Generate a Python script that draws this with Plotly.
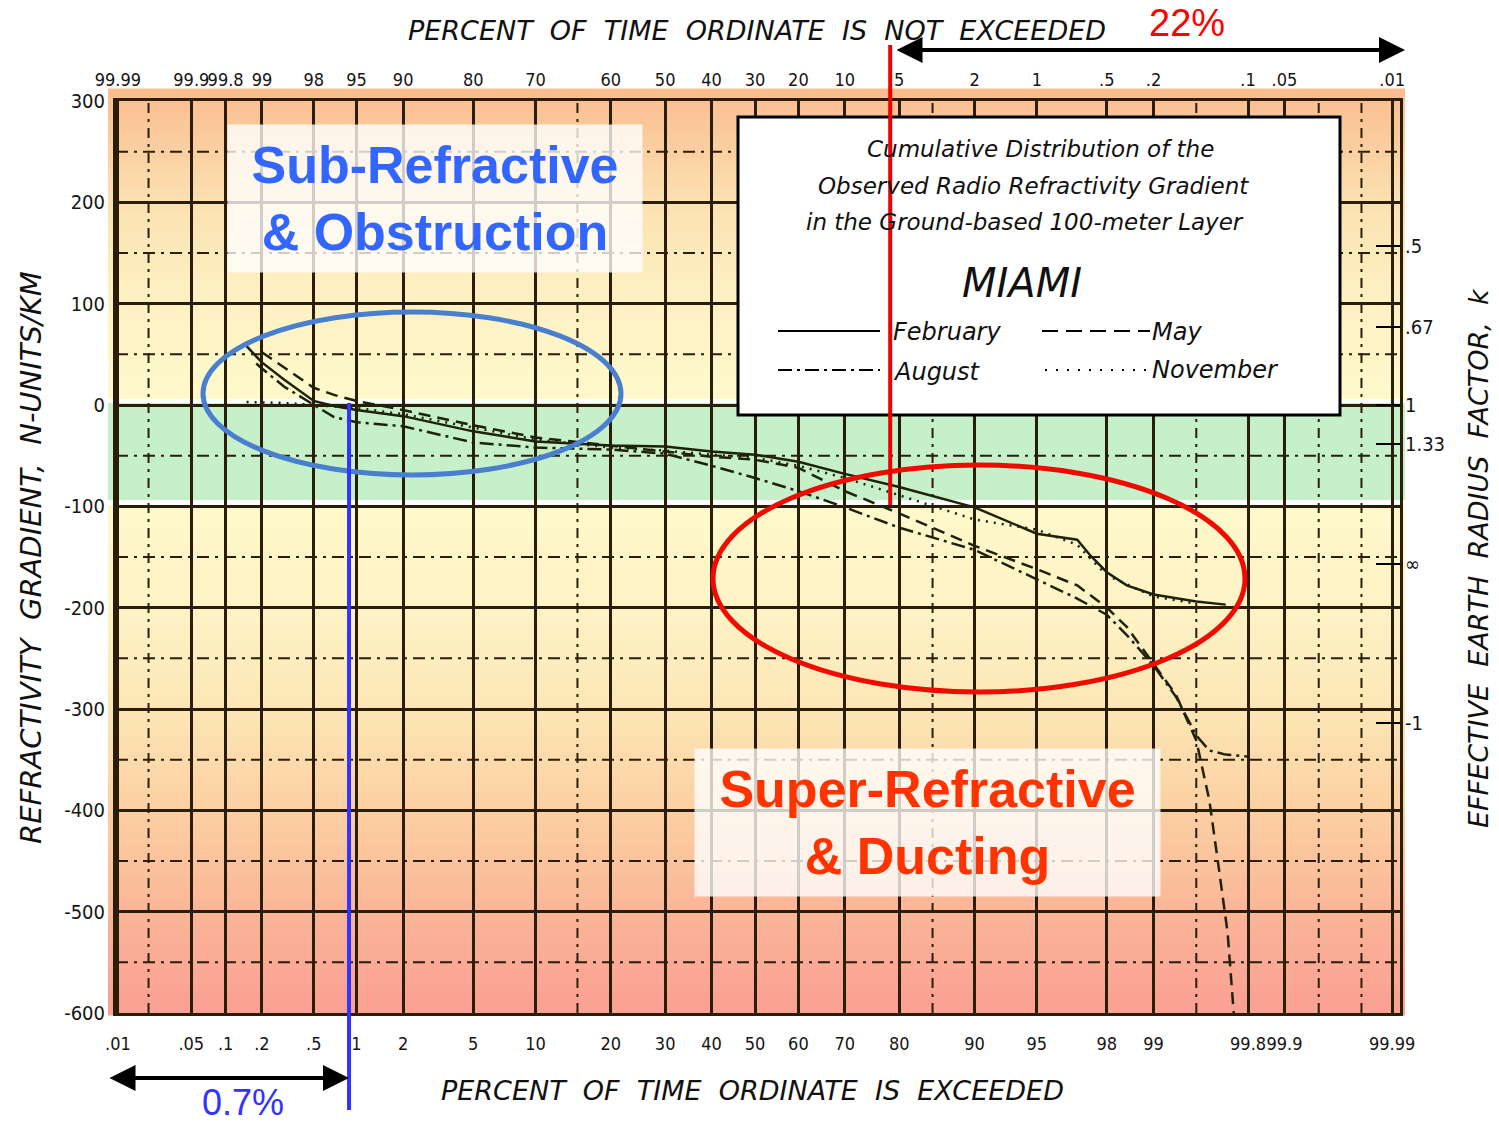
import math
from statistics import NormalDist
import numpy as np
import plotly.graph_objects as go

# ---------------- data (percent of time ordinate is exceeded, N-units/km) ----------------
feb_pct = [0.15, 0.2, 0.3, 0.5, 0.7, 1, 2, 5, 10, 20, 30, 40, 50, 60, 70, 80, 90, 93, 95, 97, 97.5, 98, 98.5, 99, 99.5, 99.7]
feb_n = [58, 42, 25, 4, -1, -5, -11, -26, -36, -40, -41, -46, -49, -56, -68, -81, -101, -115, -127, -133, -149, -165, -178, -187, -194, -197]

may_pct = [0.2, 0.3, 0.5, 0.7, 1, 2, 5, 10, 20, 30, 40, 50, 60, 70, 80, 90, 95, 97, 98, 98.5, 99, 99.3, 99.5, 99.6, 99.66, 99.71, 99.74]
may_n = [52, 37, 17, 10, 4, -5, -20, -32, -40, -46, -51, -54, -62, -85, -107, -139, -162, -178, -200, -219, -255, -286, -331, -390, -456, -521, -600]

aug_pct = [0.18, 0.2, 0.3, 0.5, 0.7, 1, 2, 5, 10, 20, 30, 40, 50, 60, 70, 80, 90, 95, 97, 98, 98.5, 99, 99.3, 99.5, 99.6, 99.7, 99.8]
aug_n = [41, 36, 18, 0, -12, -17, -21, -37, -42, -44, -48, -60, -72, -85, -101, -121, -143, -172, -191, -207, -227, -257, -288, -326, -341, -345, -347]

nov_pct = [0.15, 0.3, 0.5, 1, 2, 5, 10, 20, 30, 40, 50, 60, 70, 80, 90, 95, 97, 98, 99, 99.5]
nov_n = [3, 2, 0, -3, -9, -22, -34, -42, -45, -49, -52, -60, -72, -89, -113, -123, -138, -168, -189, -196]

# axis ticks
exceeded_ticks = [0.01, 0.05, 0.1, 0.2, 0.5, 1, 2, 5, 10, 20, 30, 40, 50, 60, 70, 80, 90, 95, 98, 99, 99.8, 99.9, 99.99]
exceeded_labels = [".01", ".05", ".1", ".2", ".5", "1", "2", "5", "10", "20", "30", "40", "50", "60", "70", "80", "90", "95", "98", "99", "99.8", "99.9", "99.99"]
not_exceeded_labels = ["99.99", "99.9", "99.8", "99", "98", "95", "90", "80", "70", "60", "50", "40", "30", "20", "10", "5", "2", "1", ".5", ".2", ".1", ".05", ".01"]
extra_grid_pct = [0.02, 15, 85, 99.5, 99.95, 99.98]
n_ticks = [300, 200, 100, 0, -100, -200, -300, -400, -500, -600]
n_labels = ["300", "200", "100", "0", "-100", "-200", "-300", "-400", "-500", "-600"]
n_half_ticks = [250, 150, 50, -50, -150, -250, -350, -450, -550]
k_values = [0.5, 0.67, 1, 1.33, math.inf, -1]
k_labels = [".5", ".67", "1", "1.33", "\u221e", "-1"]

# threshold markers of the annotation
blue_line_pct = 0.89
red_line_pct = 78.5

# ---------------- helpers ----------------
ND = NormalDist()


def probit(pct):
    return ND.inv_cdf(pct / 100.0)


def k_to_n(k):
    return -157.0 if k == math.inf else 157.0 * (1.0 / k - 1.0)


W, H = 1499, 1124
ML, MR, MT, MB = 116, 99, 101, 111
PW, PH = W - ML - MR, H - MT - MB
XMIN, XMAX = -3.730, 3.765


def px(x):
    return (x - ML) / PW


def py(y):
    return 1 - (y - MT) / PH


GRID = "#2a1e08"
CURVE = "#1e220a"

fig = go.Figure()

series = [
    ("February", feb_pct, feb_n, "solid"),
    ("May", may_pct, may_n, "12px,7px"),
    ("August", aug_pct, aug_n, "14px,5px,3px,5px"),
    ("November", nov_pct, nov_n, "2px,6px"),
]
for name, pct, nv, dash in series:
    fig.add_trace(go.Scatter(
        x=[probit(p) for p in pct], y=nv, name=name, mode="lines",
        line=dict(color=CURVE, width=2.5, dash=dash),
        customdata=pct, hovertemplate="%{customdata}%: %{y}<extra>" + name + "</extra>",
    ))

# dummy trace to activate top / right axes
fig.add_trace(go.Scatter(x=[None], y=[None], xaxis="x2", yaxis="y2", showlegend=False, hoverinfo="skip"))

shapes = []

# background gradient strips (style)
stops_n = [320, 300, 250, 200, 100, 10, -100, -200, -300, -400, -500, -600, -605]
stops_c = [(250, 186, 140), (250, 192, 147), (251, 208, 162), (252, 226, 178), (254, 242, 196), (255, 249, 203),
           (255, 249, 203), (254, 244, 198), (253, 231, 182), (252, 208, 163), (251, 182, 152), (250, 160, 148), (250, 160, 148)]
edges = np.linspace(312, -602, 121)
sn = stops_n[::-1]
for i in range(len(edges) - 1):
    mid = 0.5 * (edges[i] + edges[i + 1])
    col = [np.interp(mid, sn, [c[j] for c in stops_c][::-1]) for j in range(3)]
    y0 = (300 - edges[i]) / 900.0
    y1 = (300 - edges[i + 1]) / 900.0
    shapes.append(dict(type="rect", xref="paper", yref="paper", x0=px(108), x1=px(1405),
                       y0=1 - y0 + 0.0005, y1=1 - y1 - 0.0005, fillcolor="rgb(%d,%d,%d)" % tuple(int(v) for v in col),
                       line=dict(width=0), layer="below"))

# green band + white gaps
shapes.append(dict(type="rect", xref="paper", yref="paper", x0=px(108), x1=px(1405), y0=py(500), y1=py(403),
                   fillcolor="rgb(198,240,202)", line=dict(width=0), layer="below"))
for ya, yb in [(399, 403), (500, 505)]:
    shapes.append(dict(type="rect", xref="paper", yref="paper", x0=px(108), x1=px(1405), y0=py(yb), y1=py(ya),
                       fillcolor="white", line=dict(width=0), layer="below"))

# dashed extra grid lines
for v in extra_grid_pct:
    shapes.append(dict(type="line", xref="x", yref="paper", x0=probit(v), x1=probit(v), y0=0, y1=1,
                       line=dict(color=GRID, width=2, dash="10px,6px,3px,6px"), layer="between"))
for v in n_half_ticks:
    shapes.append(dict(type="line", xref="paper", yref="y", x0=0, x1=1, y0=v, y1=v,
                       line=dict(color=GRID, width=2, dash="12px,6px,3px,6px"), layer="between"))

# legend box
shapes.append(dict(type="rect", xref="paper", yref="paper", x0=px(738), x1=px(1340), y0=py(415), y1=py(117),
                   fillcolor="white", line=dict(color="black", width=3), layer="above"))
for (x0, x1, yy, dash) in [(778, 880, 331, "solid"), (1042, 1150, 331, "16px,8px"),
                           (778, 880, 370, "14px,5px,3px,5px"), (1045, 1150, 370, "2px,9px")]:
    shapes.append(dict(type="line", xref="paper", yref="paper", x0=px(x0), x1=px(x1), y0=py(yy), y1=py(yy),
                       line=dict(color="black", width=2.2, dash=dash), layer="above"))

# ellipses
shapes.append(dict(type="circle", xref="paper", yref="paper", x0=px(203), x1=px(621), y0=py(475), y1=py(312),
                   line=dict(color="#4a7fd0", width=5), layer="above"))
shapes.append(dict(type="circle", xref="paper", yref="paper", x0=px(713), x1=px(1245), y0=py(692), y1=py(465),
                   line=dict(color="#f00a00", width=5), layer="above"))

# threshold lines
shapes.append(dict(type="line", xref="x", yref="paper", x0=probit(blue_line_pct), x1=probit(blue_line_pct),
                   y0=py(1110), y1=py(403), line=dict(color="#3333ff", width=4), layer="above"))
shapes.append(dict(type="line", xref="x", yref="paper", x0=probit(red_line_pct), x1=probit(red_line_pct),
                   y0=py(505), y1=py(45), line=dict(color="#ee0000", width=4), layer="above"))

annotations = []


def ann(text, x, y, font, **kw):
    d = dict(text=text, x=px(x), y=py(y), xref="paper", yref="paper", showarrow=False, font=font,
             xanchor="center", yanchor="middle")
    d.update(kw)
    annotations.append(d)


def tfont(size):
    return dict(family="DejaVu Sans, sans-serif", size=size, color="#111111")


sp = "\u00a0\u00a0"
ann("<i>" + sp.join(["PERCENT", "OF", "TIME", "ORDINATE", "IS", "NOT", "EXCEEDED"]) + "</i>", 757, 30, tfont(27))
ann("<i>" + sp.join(["PERCENT", "OF", "TIME", "ORDINATE", "IS", "EXCEEDED"]) + "</i>", 752, 1090, tfont(27))
ann("<i>" + sp.join(["REFRACTIVITY", "GRADIENT,", "N-UNITS/KM"]) + "</i>", 31, 558, tfont(29), textangle=-90)
ann("<i>" + sp.join(["EFFECTIVE", "EARTH", "RADIUS", "FACTOR,", "k"]) + "</i>", 1478, 558, tfont(27), textangle=-90)

# legend texts
LEG_FONT = tfont(23)
ENTRY_FONT = tfont(24)
ann("<i>Cumulative Distribution of the</i>", 1040, 149, LEG_FONT)
ann("<i>Observed Radio Refractivity Gradient</i>", 1033, 186, LEG_FONT)
ann("<i>in the Ground-based 100-meter Layer</i>", 1025, 222, LEG_FONT)
ann("<i>MIAMI</i>", 1022, 283, tfont(40))
ann("<i>February</i>", 891, 332, ENTRY_FONT, xanchor="left")
ann("<i>May</i>", 1150, 332, ENTRY_FONT, xanchor="left")
ann("<i>August</i>", 891, 372, ENTRY_FONT, xanchor="left")
ann("<i>November</i>", 1150, 370, ENTRY_FONT, xanchor="left")

# region labels
BIG = "Liberation Sans, Arial, sans-serif"
ann("<b>Sub-Refractive<br>& Obstruction</b>", 435, 199, dict(family=BIG, size=52, color="#3366ff"),
    bgcolor="rgba(255,255,255,0.78)", width=414, height=147, borderpad=0)
ann("<b>Super-Refractive<br>& Ducting</b>", 927, 822, dict(family=BIG, size=52, color="#ff3300"),
    bgcolor="rgba(255,255,255,0.78)", width=465, height=147, borderpad=0)

# percentages and arrows
ann("22%", 1187, 23, dict(family=BIG, size=38, color="#ff0000"))
ann("0.7%", 243, 1102, dict(family=BIG, size=36, color="#3333ff"))
annotations.append(dict(text="", x=px(1405), y=py(50), xref="paper", yref="paper", showarrow=True,
                        ax=-(1405 - 895), ay=0, axref="pixel", ayref="pixel", arrowhead=2, arrowside="end+start",
                        arrowwidth=4, arrowsize=1.3, arrowcolor="black", standoff=0, startstandoff=0))
annotations.append(dict(text="", x=px(349), y=py(1078), xref="paper", yref="paper", showarrow=True,
                        ax=-(349 - 108), ay=0, axref="pixel", ayref="pixel", arrowhead=2, arrowside="end+start",
                        arrowwidth=4, arrowsize=1.3, arrowcolor="black", standoff=0, startstandoff=0))

TICK_FONT = dict(family="Liberation Sans Narrow, DejaVu Sans Condensed, Arial Narrow, Liberation Sans, sans-serif",
                 size=18, color="#151515")
YTICK_FONT = dict(TICK_FONT, size=20)
tick_x = [probit(v) for v in exceeded_ticks]

fig.update_layout(
    width=W, height=H, autosize=False,
    margin=dict(l=ML, r=MR, t=MT, b=MB, pad=0),
    paper_bgcolor="white", plot_bgcolor="rgba(0,0,0,0)",
    showlegend=False,
    shapes=shapes, annotations=annotations,
    xaxis=dict(range=[XMIN, XMAX], tickmode="array", tickvals=tick_x, ticktext=exceeded_labels, tickangle=0,
               showgrid=True, gridcolor=GRID, gridwidth=2.5, zeroline=False,
               showline=True, mirror=True, linecolor=GRID, linewidth=3, ticks="",
               tickfont=TICK_FONT, ticklabelstandoff=12),
    xaxis2=dict(range=[XMIN, XMAX], overlaying="x", side="top", anchor="y2", tickmode="array", tickangle=0,
                tickvals=tick_x, ticktext=not_exceeded_labels, showgrid=False, zeroline=False,
                showline=False, ticks="", tickfont=TICK_FONT, ticklabelstandoff=10),
    yaxis=dict(range=[-600, 300], tickmode="array", tickvals=n_ticks, ticktext=n_labels,
               showgrid=True, gridcolor=GRID, gridwidth=2.5, zeroline=False,
               showline=True, mirror=True, linecolor=GRID, linewidth=3, ticks="",
               tickfont=YTICK_FONT, ticklabelstandoff=4),
    yaxis2=dict(range=[-600, 300], overlaying="y", side="right", anchor="x2", tickmode="array",
                tickvals=[k_to_n(k) for k in k_values], ticktext=k_labels,
                showgrid=False, zeroline=False, showline=False, ticks="inside", ticklen=24, tickwidth=2,
                tickcolor="black", tickfont=YTICK_FONT, ticklabelstandoff=4),
)

fig.write_html("out.html")
